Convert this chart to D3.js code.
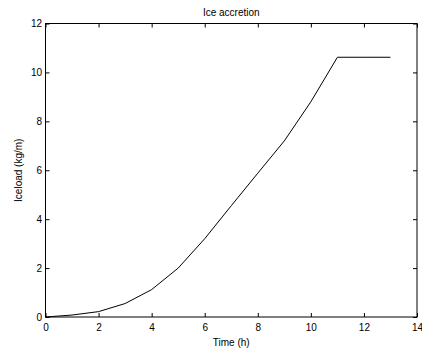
<!DOCTYPE html>
<html>
<head>
<meta charset="utf-8">
<script src="https://cdn.jsdelivr.net/npm/d3@7"></script>
<style>
  body { margin: 0; background: #fff; }
  text { font-family: "Liberation Sans", Arial, sans-serif; font-size: 10px; fill: #000; }
</style>
</head>
<body>
<svg width="422" height="352"></svg>
<script>
const hours = [0, 1, 2, 3, 4, 5, 6, 7, 8, 9, 10, 11, 12, 13];
const iceload = [0, 0.08, 0.22, 0.55, 1.12, 2.0, 3.2, 4.55, 5.88, 7.2, 8.8, 10.62, 10.62, 10.62];
const xTicks = [0, 2, 4, 6, 8, 10, 12, 14];
const yTicks = [0, 2, 4, 6, 8, 10, 12];

const svg = d3.select("svg");
const margin = { top: 23.5, right: 5, bottom: 35, left: 45.5 };
const width = +svg.attr("width");
const height = +svg.attr("height");
const innerWidth = width - margin.left - margin.right;
const innerHeight = height - margin.top - margin.bottom;

const g = svg.append("g")
  .attr("transform", `translate(${margin.left}, ${margin.top})`);

const xScale = d3.scaleLinear().domain([0, 14]).range([0, innerWidth]);
const yScale = d3.scaleLinear().domain([0, 12]).range([innerHeight, 0]);

// ticks point inward on all four sides, matlab style
const styleAxis = (sel) => {
  sel.select(".domain").remove();
  sel.selectAll("line").attr("stroke", "#000");
  sel.selectAll("text").style("font-size", "10px");
};
const noLabels = (sel) => sel.selectAll("text").remove();

g.append("g")
  .attr("transform", `translate(0, ${innerHeight})`)
  .call(d3.axisBottom(xScale).tickValues(xTicks).tickSizeInner(-4).tickPadding(7))
  .call(styleAxis);

g.append("g")
  .call(d3.axisTop(xScale).tickValues(xTicks).tickSizeInner(-4))
  .call(styleAxis)
  .call(noLabels);

g.append("g")
  .call(d3.axisLeft(yScale).tickValues(yTicks).tickSizeInner(-4).tickPadding(3.5))
  .call(styleAxis);

g.append("g")
  .attr("transform", `translate(${innerWidth}, 0)`)
  .call(d3.axisRight(yScale).tickValues(yTicks).tickSizeInner(-4))
  .call(styleAxis)
  .call(noLabels);

g.append("rect")
  .attr("width", innerWidth)
  .attr("height", innerHeight)
  .attr("fill", "none")
  .attr("stroke", "#000")
  .attr("stroke-width", 1);

const line = d3.line()
  .x((d, i) => xScale(hours[i]))
  .y((d) => yScale(d));

g.append("path")
  .datum(iceload)
  .attr("fill", "none")
  .attr("stroke", "#000")
  .attr("stroke-width", 1)
  .attr("d", line);

g.append("text")
  .attr("x", innerWidth / 2)
  .attr("y", -8)
  .attr("text-anchor", "middle")
  .text("Ice accretion");

g.append("text")
  .attr("x", innerWidth / 2)
  .attr("y", innerHeight + 29)
  .attr("text-anchor", "middle")
  .text("Time (h)");

g.append("text")
  .attr("transform", `translate(${-24}, ${innerHeight / 2}) rotate(-90)`)
  .attr("text-anchor", "middle")
  .text("Iceload (kg/m)");
</script>
</body>
</html>
